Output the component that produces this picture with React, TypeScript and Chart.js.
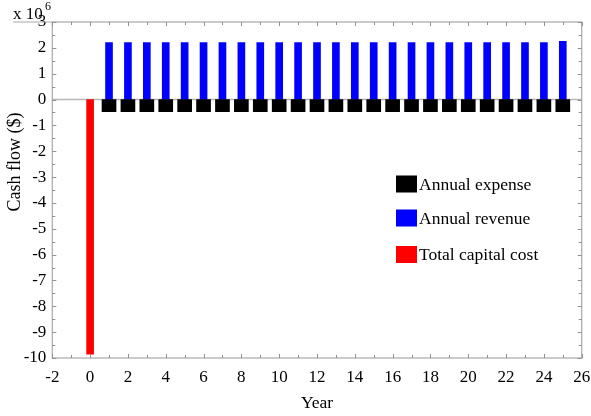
import React, { useEffect, useRef } from 'react';
import { Chart, registerables } from 'chart.js';

Chart.register(...registerables);

const FONT = "'Liberation Serif', 'Times New Roman', serif";

// Year of the capital outlay and its value ($)
const capitalYears = [0];
const capitalCost = [-9.85e6];

// Operating years
const years = [1, 2, 3, 4, 5, 6, 7, 8, 9, 10, 11, 12, 13, 14, 15, 16, 17, 18, 19, 20, 21, 22, 23, 24, 25];
const annualExpense = [
  -0.47e6, -0.47e6, -0.47e6, -0.47e6, -0.47e6, -0.47e6, -0.47e6, -0.47e6, -0.47e6, -0.47e6,
  -0.47e6, -0.47e6, -0.47e6, -0.47e6, -0.47e6, -0.47e6, -0.47e6, -0.47e6, -0.47e6, -0.47e6,
  -0.47e6, -0.47e6, -0.47e6, -0.47e6, -0.47e6,
];
const annualRevenue = [
  2.2e6, 2.2e6, 2.2e6, 2.2e6, 2.2e6, 2.2e6, 2.2e6, 2.2e6, 2.2e6, 2.2e6,
  2.2e6, 2.2e6, 2.2e6, 2.2e6, 2.2e6, 2.2e6, 2.2e6, 2.2e6, 2.2e6, 2.2e6,
  2.2e6, 2.2e6, 2.2e6, 2.2e6, 2.25e6,
];

const xRange = [-2, 26];
const yRange = [-10e6, 3e6];
const legendOrder = ['Annual expense', 'Annual revenue', 'Total capital cost'];
const yTitle = 'Cash flow ($)';

const framePlugin = {
  id: 'framePlugin',
  beforeDatasetsDraw(chart: any) {
    const { ctx, chartArea: a, scales } = chart;
    const y0 = scales.y.getPixelForValue(0);
    ctx.save();
    ctx.strokeStyle = '#b8b8b8';
    ctx.lineWidth = 1.5;
    ctx.beginPath();
    ctx.moveTo(a.left, y0);
    ctx.lineTo(a.right, y0);
    ctx.stroke();
    ctx.restore();
  },
  afterDraw(chart: any) {
    const { ctx, chartArea: a, scales } = chart;
    const xs = scales.x;
    const ys = scales.y;
    ctx.save();
    // frame
    ctx.strokeStyle = '#a8a8a8';
    ctx.lineWidth = 1.2;
    ctx.strokeRect(a.left, a.top, a.right - a.left, a.bottom - a.top);
    // underline of multiplier
    ctx.beginPath();
    ctx.moveTo(13, a.top);
    ctx.lineTo(a.left, a.top);
    ctx.stroke();
    // inward ticks
    ctx.strokeStyle = '#909090';
    ctx.lineWidth = 1;
    for (let v = xs.min; v <= xs.max; v += 1) {
      const px = Math.round(xs.getPixelForValue(v)) + 0.5;
      const len = v % 2 === 0 ? 4 : 3;
      ctx.beginPath();
      ctx.moveTo(px, a.bottom);
      ctx.lineTo(px, a.bottom - len);
      ctx.moveTo(px, a.top);
      ctx.lineTo(px, a.top + len);
      ctx.stroke();
    }
    for (let v = ys.min; v <= ys.max; v += 0.5e6) {
      const py = Math.round(ys.getPixelForValue(v)) + 0.5;
      const len = Math.abs(v % 1e6) < 1 ? 4 : 3;
      ctx.beginPath();
      ctx.moveTo(a.left, py);
      ctx.lineTo(a.left + len, py);
      ctx.moveTo(a.right, py);
      ctx.lineTo(a.right - len, py);
      ctx.stroke();
    }
    // multiplier
    ctx.fillStyle = '#000';
    ctx.textBaseline = 'alphabetic';
    ctx.textAlign = 'left';
    ctx.font = `17px ${FONT}`;
    ctx.fillText('x 10', 13, 19);
    ctx.font = `12px ${FONT}`;
    ctx.fillText('6', 45, 10);
    // y axis title
    ctx.save();
    ctx.translate(15, 162);
    ctx.rotate(-Math.PI / 2);
    ctx.font = `18px ${FONT}`;
    ctx.textAlign = 'center';
    ctx.textBaseline = 'middle';
    ctx.fillText(yTitle, 0, 0);
    ctx.restore();
    // legend
    const ds = chart.data.datasets;
    const rowsY = [184, 218, 254.5];
    legendOrder.forEach((name, i) => {
      const d = ds.find((q: any) => q.label === name);
      if (!d) return;
      const cy = rowsY[i];
      ctx.fillStyle = d.backgroundColor;
      ctx.fillRect(396, cy - 8.5, 21, 17);
      ctx.fillStyle = '#000';
      ctx.font = `17.5px ${FONT}`;
      ctx.textAlign = 'left';
      ctx.textBaseline = 'middle';
      ctx.fillText(name, 419, cy + 1);
    });
    ctx.restore();
  },
};

export default function App() {
  const ref = useRef<HTMLCanvasElement | null>(null);
  useEffect(() => {
    document.body.style.margin = '0';
    const canvas = ref.current;
    if (!canvas) return;
    const chart = new Chart(canvas, {
      type: 'bar',
      data: {
        datasets: [
          {
            label: 'Total capital cost',
            data: capitalYears.map((x, i) => ({ x, y: capitalCost[i] })),
            backgroundColor: '#ff0000',
            barThickness: 7,
          },
          {
            label: 'Annual expense',
            data: years.map((x, i) => ({ x, y: annualExpense[i] })),
            backgroundColor: '#000000',
            barThickness: 14,
          },
          {
            label: 'Annual revenue',
            data: years.map((x, i) => ({ x, y: annualRevenue[i] })),
            backgroundColor: '#0000ff',
            barThickness: 7,
          },
        ] as any,
      },
      options: {
        animation: false,
        responsive: false,
        devicePixelRatio: 1,
        datasets: { bar: { grouped: false, borderWidth: 0 } } as any,
        layout: { padding: { top: 22, right: 9.3, left: 0, bottom: 0 } },
        plugins: { legend: { display: false }, tooltip: { enabled: false } },
        scales: {
          x: {
            type: 'linear',
            min: xRange[0],
            max: xRange[1],
            offset: false,
            border: { display: false },
            grid: { display: false, offset: false, drawTicks: false },
            ticks: {
              stepSize: 2,
              autoSkip: false,
              maxRotation: 0,
              color: '#000',
              padding: 9,
              font: { family: FONT, size: 17 },
            },
            title: {
              display: true,
              text: 'Year',
              color: '#000',
              font: { family: FONT, size: 17.5 },
              padding: { top: 0, bottom: 2 },
            },
            afterFit: (s: any) => {
              s.height = 58;
              s.paddingLeft = 0;
              s.paddingRight = 0;
            },
          },
          y: {
            type: 'linear',
            min: yRange[0],
            max: yRange[1],
            border: { display: false },
            grid: { display: false, drawTicks: false },
            ticks: {
              stepSize: 1e6,
              color: '#000',
              padding: 6,
              font: { family: FONT, size: 17 },
              callback: (v: any) => String(Math.round(Number(v) / 1e6)),
            },
            title: { display: false },
            afterFit: (s: any) => {
              s.width = 52.3;
            },
          },
        },
      },
      plugins: [framePlugin],
    } as any);
    return () => chart.destroy();
  }, []);
  return (
    <div style={{ position: 'absolute', left: 0, top: 0, width: 591, height: 416, background: '#fff' }}>
      <canvas ref={ref} width={591} height={416} />
    </div>
  );
}
